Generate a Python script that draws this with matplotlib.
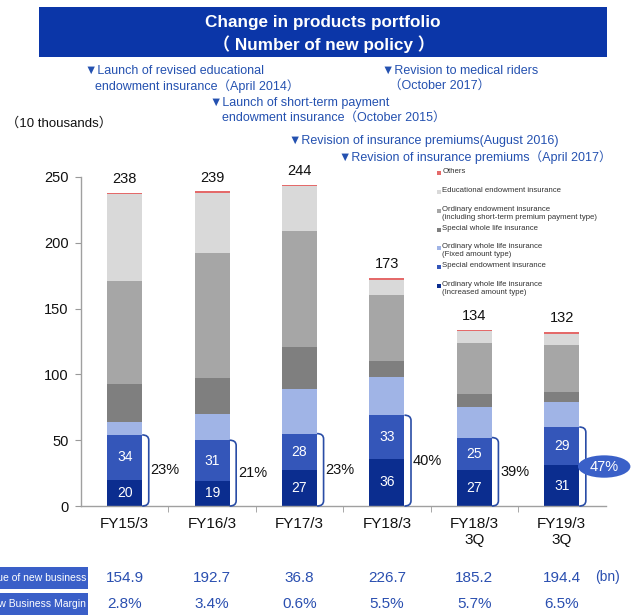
import matplotlib
matplotlib.use("Agg")
import matplotlib.pyplot as plt
from matplotlib.patches import Rectangle, Ellipse, PathPatch
from matplotlib.path import Path
from matplotlib.transforms import blended_transform_factory
import numpy as np

# ---- data -------------------------------------------------------------
categories = ["FY15/3", "FY16/3", "FY17/3", "FY18/3", "FY18/3\n3Q", "FY19/3\n3Q"]

increased_amount = [20, 19, 27, 36, 27, 31]      # Ordinary whole life (Increased amount type)
special_endowment = [34, 31, 28, 33, 25, 29]
fixed_amount = [10, 20, 34, 29, 23, 19]          # Ordinary whole life (Fixed amount type)
special_whole_life = [29, 27, 32, 12, 10, 8]
ordinary_endowment = [78, 95, 88, 50, 39, 35]
educational_endowment = [66, 46, 34, 12, 9, 9]
others = [1, 1, 1, 1, 1, 1]

share_pct = [23, 21, 23, 40, 39, 47]             # share of the two bottom series
value_new_business = [154.9, 192.7, 36.8, 226.7, 185.2, 194.4]
new_business_margin = [2.8, 3.4, 0.6, 5.5, 5.7, 6.5]

series_names = [
    "Ordinary whole life insurance\n(Increased amount type)",
    "Special endowment insurance",
    "Ordinary whole life insurance\n(Fixed amount type)",
    "Special whole life insurance",
    "Ordinary endowment insurance\n(including short-term premium payment type)",
    "Educational endowment insurance",
    "Others",
]
series_colors = ["#0B2D8F", "#3456B9", "#A0B4E6", "#7F7F7F", "#A6A6A6", "#D9D9D9", "#E46A6A"]

# ---- figure -----------------------------------------------------------
W, H = 632, 615
fig = plt.figure(figsize=(W / 100, H / 100), dpi=100)
FAM = ["Liberation Sans", "Noto Sans CJK JP", "DejaVu Sans"]
plt.rcParams["font.family"] = FAM


def px(x, y):
    return x / W, 1 - y / H


ax = fig.add_axes([81 / W, 109 / H, (605.5 - 81) / W, (506 - 177) / H])
x = np.arange(len(categories))
width = 0.4

stack = [increased_amount, special_endowment, fixed_amount, special_whole_life,
         ordinary_endowment, educational_endowment, others]
bottom = np.zeros(len(categories))
for vals, col in zip(stack, series_colors):
    ax.bar(x, vals, width, bottom=bottom, color=col, edgecolor="none", zorder=2)
    bottom += np.array(vals)
totals = bottom

# totals above bars
for xi, t in zip(x, totals):
    ax.annotate(f"{int(t)}", (xi, t), xytext=(0, 5), textcoords="offset points",
                ha="center", va="bottom", fontsize=10.5, color="#111111")

# labels inside the two blue segments
for xi, a, b in zip(x, increased_amount, special_endowment):
    ax.text(xi, a / 2, f"{a}", ha="center", va="center", color="white", fontsize=10)
    ax.text(xi, a + b / 2, f"{b}", ha="center", va="center", color="white", fontsize=10)

# rounded brackets and shares
bracket_col = "#2A4DA6"
for i, (xi, a, b, p) in enumerate(zip(x, increased_amount, special_endowment, share_pct)):
    top = a + b
    x0 = xi + width / 2
    x1 = xi + 0.275
    r = 4.0
    verts = [(x0, top), (x1, top), (x1, top - r), (x1, r), (x1, 0), (x0, 0)]
    codes = [Path.MOVETO, Path.CURVE3, Path.CURVE3, Path.LINETO, Path.CURVE3, Path.CURVE3]
    ax.add_patch(PathPatch(Path(verts, codes), fill=False, edgecolor=bracket_col,
                           lw=1.2, zorder=3, clip_on=False))
    mid = top / 2
    if i == len(x) - 1:
        ax.add_patch(Ellipse((xi + 0.485, mid), 0.6, 17, facecolor="#3A60C8",
                             edgecolor="none", zorder=4, clip_on=False))
        ax.text(xi + 0.485, mid, f"{p}%", ha="center", va="center", color="white",
                fontsize=10.5, zorder=5, clip_on=False)
    else:
        ax.text(xi + 0.46, mid, f"{p}%", ha="center", va="center", color="#111111",
                fontsize=10.5)

ax.set_xlim(-0.5, len(categories) - 0.5)
ax.set_ylim(0, 250)
ax.set_yticks(range(0, 251, 50))
ax.set_xticks(x)
ax.set_xticklabels(categories, fontsize=11, color="#111111", linespacing=1.15)
ax.set_xticks(np.arange(0.5, len(categories) - 1, 1), minor=True)
ax.tick_params(axis="x", which="major", length=0, pad=8)
ax.tick_params(axis="x", which="minor", length=4, color="#999999", direction="out")
ax.tick_params(axis="y", length=4, color="#999999", labelsize=10.5, labelcolor="#111111", pad=5)
for s in ("top", "right"):
    ax.spines[s].set_visible(False)
for s in ("left", "bottom"):
    ax.spines[s].set_color("#A0A0A0")
    ax.spines[s].set_linewidth(1.0)

# ---- title banner -----------------------------------------------------
fig.patches.append(Rectangle(px(39, 57), (607 - 39) / W, 50 / H, transform=fig.transFigure,
                             facecolor="#0B36A8", edgecolor="none"))
fig.text(*px(323, 23), "Change in products portfolio", ha="center", va="center",
         color="white", fontsize=12.3, fontweight="bold")
fig.text(*px(324, 44), "（ Number of new policy ）", ha="center", va="center",
         color="white", fontsize=12.3, fontweight="bold")

# ---- event notes ------------------------------------------------------
note_col = "#2451B0"
notes = [
    (85, 71, "▼Launch of revised educational"),
    (95, 86, "endowment insurance（April 2014）"),
    (382, 71, "▼Revision to medical riders"),
    (389, 86, "（October 2017）"),
    (210, 103, "▼Launch of short-term payment"),
    (222, 118, "endowment insurance（October 2015）"),
    (289, 141, "▼Revision of insurance premiums(August 2016)"),
    (339, 157, "▼Revision of insurance premiums（April 2017）"),
]
for nx, ny, t in notes:
    fig.text(*px(nx, ny), t, ha="left", va="center", color=note_col, fontsize=9)

fig.text(*px(6, 123), "（10 thousands）", ha="left", va="center", color="#111111", fontsize=9.5)

# ---- legend -----------------------------------------------------------
legend_rows = [(173, 6), (192, 5), (211, 4), (230, 3), (248, 2), (267, 1), (286, 0)]
sq = 4.0
for ly, k in legend_rows:
    fig.patches.append(Rectangle(px(437, ly + sq / 2), sq / W, sq / H, transform=fig.transFigure,
                                 facecolor=series_colors[k], edgecolor="none"))
    fig.text(*px(442.5, ly - 4.8), series_names[k], ha="left", va="top", color="#333333",
             fontsize=5.6, linespacing=1.25)

# ---- table under the chart -------------------------------------------
row_box_col = "#3A5FC8"
fig.patches.append(Rectangle(px(-10, 589), 98 / W, 22 / H, transform=fig.transFigure,
                             facecolor=row_box_col, edgecolor="none"))
fig.patches.append(Rectangle(px(-10, 620), 98 / W, 27 / H, transform=fig.transFigure,
                             facecolor=row_box_col, edgecolor="none"))
fig.text(*px(86, 578), "Value of new business", ha="right", va="center", color="white", fontsize=7.5)
fig.text(*px(86, 604), "New Business Margin", ha="right", va="center", color="white", fontsize=7.5)

val_col = "#2A4FB0"
tr = blended_transform_factory(ax.transData, fig.transFigure)
for xi, v, m in zip(x, value_new_business, new_business_margin):
    ax.text(xi, 1 - 578 / H, f"{v:.1f}", transform=tr, ha="center", va="center",
            color=val_col, fontsize=11, clip_on=False)
    ax.text(xi, 1 - 604 / H, f"{m:.1f}%", transform=tr, ha="center", va="center",
            color=val_col, fontsize=11, clip_on=False)
fig.text(*px(607, 577), "(bn)", ha="center", va="center", color=val_col, fontsize=10)

fig.savefig("out.png", dpi=100)
